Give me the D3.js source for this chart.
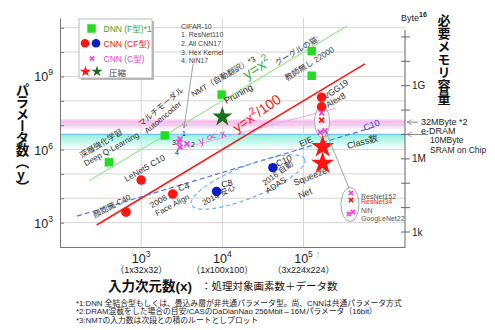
<!DOCTYPE html>
<html>
<head>
<meta charset="utf-8">
<script src="https://cdn.jsdelivr.net/npm/d3@7"></script>
<style>
body { margin: 0; background: #fff; }
svg { display: block; font-family: "Liberation Sans", "Noto Sans CJK JP", sans-serif; }
</style>
</head>
<body>
<div id="graph"></div>
<script>
// ---- values (x = input dimension, y = parameters) ----
var dnnPoints = [
    {name: "DeepQ",   x: 400,    y: 3.0e5},
    {name: "AutoEnc", x: 1950,   y: 3.8e6},
    {name: "NMT",     x: 9800,   y: 1.8e8},
    {name: "CatTop",  x: 1.26e5, y: 1.1e10},
    {name: "CatLow",  x: 1.26e5, y: 1.07e9}
];
var cnnRed = [
    {name: "Face",    x: 650,    y: 2700},
    {name: "LeNet5",  x: 1000,   y: 5.6e4},
    {name: "Align",   x: 2450,   y: 1.5e4},
    {name: "VGG19",   x: 1.67e5, y: 1.4e8},
    {name: "Alex8",   x: 1.67e5, y: 5.7e7}
];
var cnnBlue = [
    {name: "C8",   x: 8500,  y: 1.9e4},
    {name: "ADAS", x: 4.2e4, y: 1.8e5}
];
var starsGreen = [ {name: "Pruning", x: 1.0e4, y: 2.2e7} ];
var starsRed = [
    {name: "EIE",     x: 1.72e5, y: 1.3e6},
    {name: "Squeeze", x: 1.72e5, y: 2.7e5}
];
var cTypePoints = [
    {name: "ResNet152",   x: 1.67e5, y: 3.2e7, red: false},
    {name: "ResNet34",    x: 1.67e5, y: 1.6e7, red: true},
    {name: "NiN",         x: 1.6e5,  y: 5.1e6, red: false},
    {name: "GoogLeNet22", x: 1.84e5, y: 5.8e6, red: false}
];
var cifarPoints = [
    {name: "1", x: 3010, y: 2.7e6},
    {name: "2", x: 3660, y: 1.7e6},
    {name: "3", x: 2920, y: 2.0e6},
    {name: "4", x: 3010, y: 1.27e6}
];
var lineSquare   = [[228, 5.2e4], [3.43e5, 1.18e11]];   // y = x^2
var lineSquare100 = [[283, 801], [5.71e5, 3.26e9]];     // y = x^2/100
var lineLinear   = [[2800, 1.0e6], [2.45e5, 5.0e7]];    // y ∝ x
var lineClass    = [[162, 1860], [7.6e5, 8.7e6]];       // Class数
var groupAdas    = {x: 20700, y: 46600};                // 2014/2016 ellipse centre
var memPink  = 32e6;   // 32MByte e-DRAM
var memCyan  = 10e6;   // 10MByte SRAM
var xTicks = [1e3, 1e4, 1e5];
var xTickExp = ["3", "4", "5"];
var xTickSub = ["（1x32x32）", "（1x100x100）", "（3x224x224）"];
var yDecades = [1e2,1e3,1e4,1e5,1e6,1e7,1e8,1e9,1e10,1e11];
var yLabelVals = [1e3, 1e6, 1e9];
var yLabelExp = ["3", "6", "9"];
var byteDecades = [1e3,1e4,1e5,1e6,1e7,1e8,1e9,1e10,1e11];
var byteLabels = [{v: 1e3, t: "1k"}, {v: 1e6, t: "1M"}, {v: 1e9, t: "1G"}];
var cifarList = ["CIFAR-10", "1. ResNet110", "2. All CNN17", "3. Hex Kernel", "4. NiN17"];
var footnotes = [
    "*1:DNN 全結合型もしくは、畳込み層が非共通パラメータ型。尚、CNNは共通パラメータ方式",
    "*2:DRAM混載をした場合の目安/CASのDaDianNao 256Mbit→16Mパラメータ（16bit）",
    "*3:NMTの入力数は次段との積のルートとしプロット"
];

var GREEN = "#22dd22", RED = "#ff1414", BLUE = "#0a1ec8", PINK = "#ee44dd", DKGREEN = "#1b6e1b";

var svg = d3.select('#graph').append('svg').attr('width', 495).attr('height', 330);

var x = d3.scaleLog().domain([1e2, Math.pow(10, 6.25)]).range([60, 405]);
var y = d3.scaleLog().domain([1e2, Math.pow(10, 11.4)]).range([247, 18]);
var yB = d3.scaleLog().domain([1e3, 1e9]).range([232, 85.7]);

var defs = svg.append('defs');
var pg = defs.append('linearGradient').attr('id', 'pinkGrad').attr('x1', 0).attr('x2', 0).attr('y1', 0).attr('y2', 1);
pg.append('stop').attr('offset', '0%').attr('stop-color', '#fbe0f7');
pg.append('stop').attr('offset', '25%').attr('stop-color', '#f7b9ee');
pg.append('stop').attr('offset', '100%').attr('stop-color', '#fff2fd');
var cg = defs.append('linearGradient').attr('id', 'cyanGrad').attr('x1', 0).attr('x2', 0).attr('y1', 0).attr('y2', 1);
cg.append('stop').attr('offset', '0%').attr('stop-color', '#8ef2dc');
cg.append('stop').attr('offset', '100%').attr('stop-color', '#ffffff');
defs.append('marker').attr('id', 'arr').attr('viewBox', '0 0 10 10').attr('refX', 9).attr('refY', 5)
    .attr('markerWidth', 6).attr('markerHeight', 6).attr('orient', 'auto-start-reverse')
    .append('path').attr('d', 'M1,1 L9,5 L1,9').attr('fill', 'none').attr('stroke', '#888').attr('stroke-width', 1.3);

// memory bands
svg.append('rect').attr('x', 60).attr('width', 345)
    .attr('y', yB(memPink) - 3).attr('height', 10).attr('fill', 'url(#pinkGrad)');
svg.append('rect').attr('x', 60).attr('width', 345)
    .attr('y', yB(memCyan)).attr('height', 15).attr('fill', 'url(#cyanGrad)');
svg.append('line').attr('x1', 60).attr('x2', 405).attr('y1', yB(memCyan)).attr('y2', yB(memCyan))
    .attr('stroke', '#76c4ee').attr('stroke-width', 1.3);

// grid
svg.append('g').selectAll('line').data(yDecades.slice(1)).enter().append('line')
    .attr('x1', 60).attr('x2', 405).attr('y1', d => y(d)).attr('y2', d => y(d))
    .attr('stroke', '#d6d6d6').attr('stroke-width', 1);
svg.append('g').selectAll('line').data(xTicks).enter().append('line')
    .attr('x1', d => x(d)).attr('x2', d => x(d)).attr('y1', 18).attr('y2', 247)
    .attr('stroke', '#d6d6d6').attr('stroke-width', 1);

// axes
var leftAxis = svg.append('g').attr('transform', 'translate(60,0)')
    .call(d3.axisLeft(y).tickValues(yDecades).tickSizeInner(-4).tickSizeOuter(0).tickFormat(''));
var bottomAxis = svg.append('g').attr('transform', 'translate(0,247)')
    .call(d3.axisBottom(x).tickValues(xTicks).tickSizeInner(0).tickSizeOuter(0).tickFormat(''));
[leftAxis, bottomAxis].forEach(function (a) {
    a.selectAll('path,line').attr('stroke', '#777');
});
svg.append('line').attr('x1', 405).attr('x2', 405).attr('y1', 30).attr('y2', 247).attr('stroke', '#666');
svg.append('g').selectAll('line').data(byteDecades).enter().append('line')
    .attr('x1', 401).attr('x2', 410).attr('y1', d => yB(d)).attr('y2', d => yB(d))
    .attr('stroke', '#666');
svg.append('g').selectAll('text').data(byteLabels).enter().append('text')
    .attr('x', 412).attr('y', d => yB(d.v) + 3.5).attr('font-size', 10).attr('fill', '#222')
    .text(d => d.t);

// tick labels
var yl = svg.append('g').selectAll('text').data(yLabelVals).enter().append('text')
    .attr('x', 53).attr('y', d => y(d) + 5).attr('text-anchor', 'end')
    .attr('font-size', 12.5).attr('fill', '#222');
yl.append('tspan').text('10');
yl.append('tspan').attr('dy', -6).attr('font-size', 8.5).text((d, i) => yLabelExp[i]);

var xl = svg.append('g').selectAll('text').data(xTicks).enter().append('text')
    .attr('x', d => x(d)).attr('y', 263).attr('text-anchor', 'middle')
    .attr('font-size', 12.5).attr('fill', '#222');
xl.append('tspan').text('10');
xl.append('tspan').attr('dy', -6).attr('font-size', 8.5).text((d, i) => xTickExp[i]);
svg.append('g').selectAll('text').data(xTicks).enter().append('text')
    .attr('x', d => x(d)).attr('y', 273).attr('text-anchor', 'middle')
    .attr('font-size', 9).attr('fill', '#222').text((d, i) => xTickSub[i]);
svg.append('text').attr('x', x(150528)).attr('y', 257.5).attr('text-anchor', 'middle')
    .attr('font-size', 11).attr('fill', '#aaa').text('↑');

// reference lines
var line = d3.line().x(d => x(d[0])).y(d => y(d[1]));
svg.append('path').datum(lineSquare).attr('d', line).attr('stroke', '#9ae88c').attr('stroke-width', 1.2).attr('fill', 'none');
svg.append('path').datum(lineLinear).attr('d', line).attr('stroke', '#f4a6ea').attr('stroke-width', 1.1).attr('fill', 'none');
svg.append('path').datum(lineSquare100).attr('d', line).attr('stroke', RED).attr('stroke-width', 1.5).attr('fill', 'none');
svg.append('path').datum(lineClass).attr('d', line).attr('stroke', '#5872e0').attr('stroke-width', 1.2)
    .attr('stroke-dasharray', '5,3').attr('fill', 'none');

// ellipses
svg.append('ellipse').attr('cx', 0).attr('cy', 0).attr('rx', 61).attr('ry', 16)
    .attr('transform', 'translate(' + x(groupAdas.x) + ',' + y(groupAdas.y) + ') rotate(-22)')
    .attr('fill', 'none').attr('stroke', '#6cb0f0').attr('stroke-width', 1.2).attr('stroke-dasharray', '4,3');
var cyExt = d3.extent(cTypePoints, d => y(d.y));
var cxMid = d3.mean(cTypePoints, d => x(d.x));
svg.append('ellipse').attr('cx', cxMid).attr('cy', (cyExt[0] + cyExt[1]) / 2 - 1)
    .attr('rx', 7.5).attr('ry', (cyExt[1] - cyExt[0]) / 2 + 6)
    .attr('fill', 'rgba(255,255,255,0.6)').attr('stroke', '#aaa').attr('stroke-width', 1);

// markers
function sym(type, size) { return d3.symbol().type(type).size(size); }
svg.append('g').selectAll('path').data(dnnPoints).enter().append('path')
    .attr('d', sym(d3.symbolSquare, 72)).attr('fill', GREEN)
    .attr('transform', d => 'translate(' + x(d.x) + ',' + y(d.y) + ')');
svg.append('g').selectAll('circle').data(cnnRed).enter().append('circle')
    .attr('cx', d => x(d.x)).attr('cy', d => y(d.y)).attr('r', 4.8).attr('fill', RED);
svg.append('g').selectAll('circle').data(cnnBlue).enter().append('circle')
    .attr('cx', d => x(d.x)).attr('cy', d => y(d.y)).attr('r', 4.8).attr('fill', BLUE);
svg.append('g').selectAll('path').data(starsGreen).enter().append('path')
    .attr('d', sym(d3.symbolStar, 125)).attr('fill', DKGREEN)
    .attr('transform', d => 'translate(' + x(d.x) + ',' + y(d.y) + ')');
svg.append('g').selectAll('path').data(starsRed).enter().append('path')
    .attr('d', sym(d3.symbolStar, 165)).attr('fill', RED)
    .attr('transform', d => 'translate(' + x(d.x) + ',' + y(d.y) + ')');
svg.append('g').selectAll('path').data(cTypePoints).enter().append('path')
    .attr('d', sym(d3.symbolTimes, 18)).attr('fill', 'none')
    .attr('stroke', d => d.red ? RED : PINK).attr('stroke-width', 1.8)
    .attr('transform', d => 'translate(' + x(d.x) + ',' + y(d.y) + ')');
svg.append('g').selectAll('path').data(cifarPoints).enter().append('path')
    .attr('d', sym(d3.symbolTimes, 18)).attr('fill', 'none')
    .attr('stroke', PINK).attr('stroke-width', 1.8)
    .attr('transform', d => 'translate(' + x(d.x) + ',' + y(d.y) + ')');

// annotation text
function label(px, py, txt, rot, size, color, anchor) {
    return svg.append('text')
        .attr('transform', 'translate(' + px + ',' + py + ') rotate(' + (rot || 0) + ')')
        .attr('font-size', size || 8)
        .attr('fill', color || '#333')
        .attr('text-anchor', anchor || 'start')
        .text(txt);
}
function at(p, dx, dy) { return [x(p.x) + dx, y(p.y) + dy]; }
var p;
p = at(dnnPoints[0], -27, -4);  label(p[0], p[1], '深層強化学習', -31);
p = at(dnnPoints[0], -23, 4);   label(p[0], p[1], 'Deep Q-Learning', -29);
p = at(dnnPoints[1], -23.5, -8.5); label(p[0], p[1], 'マルチモーダル', -40);
p = at(dnnPoints[1], -17.5, -1.5); label(p[0], p[1], 'Autoencoder', -40);
p = at(dnnPoints[2], -28.5, 2.5); label(p[0], p[1], 'NMT（自動翻訳）*3', -30);
p = at(dnnPoints[2], 4.5, 9.5); label(p[0], p[1], 'Pruning', -29, 9, '#222');
p = at(dnnPoints[4], -34.7, -9.7); label(p[0], p[1], 'グーグルの猫:', -31);
p = at(dnnPoints[4], -24.7, 5.3); label(p[0], p[1], '教師無し 22000', -32);
p = at(cnnRed[3], 4.3, 2.7); label(p[0], p[1], 'VGG19', -35, 8.5);
p = at(cnnRed[4], 6.3, 1.3); label(p[0], p[1], 'Alex8', -30, 8.5);
p = at(cnnRed[1], -14.7, 2); label(p[0], p[1], 'LeNet5 C10', -30, 8.5);
p = at(cnnRed[0], -31, 6); label(p[0], p[1], '顔認識 C40', -28);
p = at(cnnRed[2], -20.7, 14.3); label(p[0], p[1], '2008', -30);
p = at(cnnRed[2], 6.3, -2.7); label(p[0], p[1], 'C4', -15, 9);
p = at(cnnRed[2], -15.7, 22.3); label(p[0], p[1], 'Face Align', -28);
p = at(cnnBlue[0], 5.3, -3.7); label(p[0], p[1], 'C8', -12, 9);
p = at(cnnBlue[0], -12.7, 14.3); label(p[0], p[1], '2014 安心', -28);
p = at(cnnBlue[1], 4.7, -0.7); label(p[0], p[1], 'C10', -25, 9);
p = at(cnnBlue[1], -8.3, 18.3); label(p[0], p[1], '2016 自動', -36);
p = at(cnnBlue[1], -5.3, 26.3); label(p[0], p[1], 'ADAS', -33, 8.5);
p = at(starsRed[0], -21.7, 0.3); label(p[0], p[1], 'EIE', -25, 8.5);
p = at(starsRed[1], -27.7, 22.7); label(p[0], p[1], 'Squeeze', -22, 9);
p = at(starsRed[1], -22.7, 35.7); label(p[0], p[1], 'Net', -25, 9);

label(348, 149, 'Class数', -15, 9);
label(365, 131, 'C10', -22, 9, '#3040d0');
var t1 = label(247, 80, 'y=x', -33, 15, '#3cb43c');
t1.append('tspan').attr('dy', -6).attr('font-size', 10).text('2');
var t2 = label(237, 133, 'y=x', -35, 14, RED);
t2.append('tspan').attr('dy', -6).attr('font-size', 10).text('2');
t2.append('tspan').attr('dy', 6).text('/100');
label(200, 145, 'y ∝ x', -18, 11, '#e040d0');

// CIFAR numbers
p = at(cifarPoints[0], 2, -3); label(p[0], p[1], '1', 0, 7, '#222');
p = at(cifarPoints[1], 4, 3); label(p[0], p[1], '2', 0, 7, '#222');
p = at(cifarPoints[2], -3, 3); label(p[0], p[1], '3', 0, 7, '#222', 'end');
p = at(cifarPoints[3], -1, 8); label(p[0], p[1], '4', 0, 7, '#222', 'end');
svg.append('g').selectAll('text').data(cifarList).enter().append('text')
    .attr('x', 181).attr('y', (d, i) => 28.5 + i * 8.7)
    .attr('font-size', 7).attr('fill', '#444').text(d => d);
svg.append('line').attr('x1', 193).attr('y1', 64)
    .attr('x2', x(cifarPoints[0].x) + 4).attr('y2', y(cifarPoints[0].y) - 11)
    .attr('stroke', '#999').attr('stroke-width', 0.9).attr('marker-end', 'url(#arr)');

// mini legend of C-type networks
var miniY = [193, 200, 214, 212];
var miniX = [351, 351, 349, 353];
var miniText = [{t: "ResNet152", c: "#555", b: 198.7}, {t: "ResNet34", c: RED, b: 204.3},
                {t: "NiN", c: "#555", b: 212.7}, {t: "GoogLeNet22", c: "#555", b: 220.7}];
svg.append('ellipse').attr('cx', 350).attr('cy', 204.5).attr('rx', 9).attr('ry', 17)
    .attr('fill', 'none').attr('stroke', '#aaa');
svg.append('g').selectAll('path').data(cTypePoints).enter().append('path')
    .attr('d', sym(d3.symbolTimes, 14)).attr('fill', 'none')
    .attr('stroke', d => d.red ? RED : PINK).attr('stroke-width', 1.6)
    .attr('transform', (d, i) => 'translate(' + miniX[i] + ',' + miniY[i] + ')');
svg.append('g').selectAll('text').data(miniText).enter().append('text')
    .attr('x', 361).attr('y', d => d.b).attr('font-size', 7).attr('fill', d => d.c).text(d => d.t);
svg.append('line').attr('x1', 349).attr('y1', 188)
    .attr('x2', cxMid + 4).attr('y2', cyExt[1] + 0)
    .attr('stroke', '#999').attr('stroke-width', 0.9).attr('marker-end', 'url(#arr)');

// memory notes on right
svg.append('line').attr('x1', 418).attr('x2', 407).attr('y1', yB(memPink)).attr('y2', yB(memPink))
    .attr('stroke', '#888').attr('marker-end', 'url(#arr)');
svg.append('line').attr('x1', 428).attr('x2', 407).attr('y1', yB(memCyan)).attr('y2', yB(memCyan))
    .attr('stroke', '#888').attr('marker-end', 'url(#arr)');
label(421, 125, '32MByte *2', 0, 9, '#222');
label(421, 133.5, 'e-DRAM', 0, 9, '#222');
label(430, 143.3, '10MByte', 0, 8.5, '#222');
label(430, 153, 'SRAM on Chip', 0, 8.5, '#222');
var bt = label(401, 20.5, 'Byte', 0, 9, '#222');
bt.append('tspan').attr('dy', -4).attr('font-size', 7).attr('font-weight', 'bold').text('16');

// axis titles (vertical)
svg.append('text').attr('x', 443).attr('y', 14)
    .style('writing-mode', 'vertical-rl').style('text-orientation', 'upright')
    .attr('font-size', 13).attr('font-weight', 'bold').attr('fill', '#111')
    .text('必要メモリ容量');
svg.append('text').attr('x', 21).attr('y', 83)
    .style('writing-mode', 'vertical-rl').style('text-orientation', 'upright')
    .style('letter-spacing', '-1.5px')
    .attr('font-size', 13.5).attr('font-weight', 'bold').attr('fill', '#111')
    .text('パラメータ数（y）');
svg.append('text').attr('x', 108).attr('y', 290.5)
    .attr('font-size', 13.5).attr('font-weight', 'bold').attr('fill', '#111').text('入力次元数(x)');
svg.append('text').attr('x', 201).attr('y', 290)
    .attr('font-size', 10.5).attr('fill', '#111').text('：処理対象画素数＋データ数');
svg.append('g').selectAll('text').data(footnotes).enter().append('text')
    .attr('x', 76).attr('y', (d, i) => 305.5 + i * 8.5)
    .attr('font-size', 7.8).attr('fill', '#222').text(d => d);

// legend
svg.append('rect').attr('x', 81).attr('y', 21).attr('width', 73).attr('height', 59).attr('fill', '#bbb');
svg.append('rect').attr('x', 79).attr('y', 19).attr('width', 73).attr('height', 59)
    .attr('fill', '#fff').attr('stroke', '#aaa').attr('stroke-width', 0.8);
svg.append('path').attr('d', sym(d3.symbolSquare, 72)()).attr('fill', GREEN).attr('transform', 'translate(91.5,28.5)');
svg.append('circle').attr('cx', 85).attr('cy', 43.3).attr('r', 4.3).attr('fill', RED);
svg.append('circle').attr('cx', 96).attr('cy', 43.3).attr('r', 4.3).attr('fill', BLUE);
svg.append('path').attr('d', sym(d3.symbolTimes, 14)()).attr('fill', 'none').attr('stroke', PINK)
    .attr('stroke-width', 1.6).attr('transform', 'translate(92,58.5)');
svg.append('path').attr('d', sym(d3.symbolStar, 38)()).attr('fill', RED).attr('transform', 'translate(85.5,71.5)');
svg.append('path').attr('d', sym(d3.symbolStar, 38)()).attr('fill', DKGREEN).attr('transform', 'translate(97,71.5)');
label(103.5, 32, 'DNN (F型)*1', 0, 8.5, '#3aa23a');
label(103.5, 47, 'CNN (CF型)', 0, 8.5, '#e8201c');
label(103.5, 62, 'CNN (C型)', 0, 8.5, '#e040e0');
label(109, 75.5, '圧縮', 0, 8.5, '#444');
</script>
</body>
</html>
